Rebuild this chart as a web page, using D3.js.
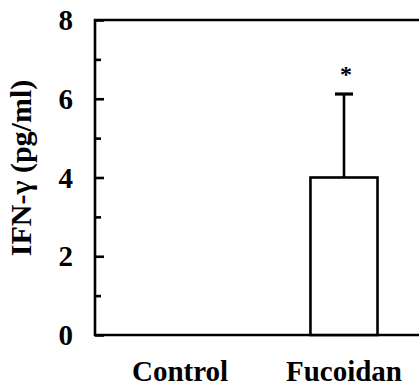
<!DOCTYPE html>
<html>
<head>
<meta charset="utf-8">
<script src="https://cdn.jsdelivr.net/npm/d3@7"></script>
<style>
  html, body { margin: 0; padding: 0; background: #fff; }
  svg { display: block; }
  text { font-family: "Liberation Serif", "Times New Roman", serif; font-weight: bold; fill: #000; }
</style>
</head>
<body>
<svg id="chart" width="419" height="391"></svg>
<script>
// IFN-γ concentration by treatment group
const groups = ["Control", "Fucoidan"];
const means = [0, 4.0];
const errors = [0, 2.12];
const significant = [false, true];
const majorTicks = [0, 2, 4, 6, 8];
const minorTicks = [1, 3, 5, 7];

const svg = d3.select("#chart");
const W = 419, H = 391;
const plotLeft = 95, plotTop = 20, plotBottom = 335;

const y = d3.scaleLinear().domain([0, 8]).range([plotBottom, plotTop]);
const x = d3.scaleBand().domain(groups).range([plotLeft, 429])
  .paddingInner(0.591).paddingOuter(0.314);

const lw = 2.6;

// frame: left axis, top line and baseline run to the right edge
svg.append("path")
  .attr("d", `M${W},${plotTop}H${plotLeft}V${plotBottom}H${W}`)
  .attr("fill", "none").attr("stroke", "#000").attr("stroke-width", lw);

// inward ticks
const yAxis = d3.axisRight(y).tickValues(majorTicks).tickSize(9).tickFormat("");
const gy = svg.append("g").attr("transform", `translate(${plotLeft},0)`).call(yAxis);
gy.select(".domain").remove();
gy.selectAll("line").attr("stroke-width", lw);

const yMinor = d3.axisRight(y).tickValues(minorTicks).tickSize(6).tickFormat("");
const gm = svg.append("g").attr("transform", `translate(${plotLeft},0)`).call(yMinor);
gm.select(".domain").remove();
gm.selectAll("line").attr("stroke-width", lw);

// tick labels
svg.append("g").selectAll("text").data(majorTicks).join("text")
  .attr("x", 73).attr("y", d => y(d))
  .attr("dy", "0.35em")
  .attr("text-anchor", "end")
  .attr("font-size", 29)
  .text(d => d);

// y axis title
svg.append("text")
  .attr("transform", `translate(31,168) rotate(-90)`)
  .attr("text-anchor", "middle")
  .attr("font-size", 30)
  .text("IFN-γ (pg/ml)");

// bars
const data = groups.map((g, i) => ({ g, m: means[i], e: errors[i], s: significant[i] }));
svg.append("g").selectAll("rect").data(data.filter(d => d.m > 0)).join("rect")
  .attr("x", d => x(d.g)).attr("width", x.bandwidth())
  .attr("y", d => y(d.m)).attr("height", d => y(0) - y(d.m))
  .attr("fill", "#fff").attr("stroke", "#000").attr("stroke-width", lw);

// error bars (upper only)
const eb = svg.append("g").selectAll("g").data(data.filter(d => d.e > 0)).join("g");
eb.append("line")
  .attr("x1", d => x(d.g) + x.bandwidth() / 2).attr("x2", d => x(d.g) + x.bandwidth() / 2)
  .attr("y1", d => y(d.m)).attr("y2", d => y(d.m + d.e))
  .attr("stroke", "#000").attr("stroke-width", lw);
eb.append("line")
  .attr("x1", d => x(d.g) + x.bandwidth() / 2 - 9).attr("x2", d => x(d.g) + x.bandwidth() / 2 + 9)
  .attr("y1", d => y(d.m + d.e)).attr("y2", d => y(d.m + d.e))
  .attr("stroke", "#000").attr("stroke-width", 3.2);

// significance marks
svg.append("g").selectAll("text").data(data.filter(d => d.s)).join("text")
  .attr("x", d => x(d.g) + x.bandwidth() / 2 + 2)
  .attr("y", d => y(d.m + d.e) - 12)
  .attr("text-anchor", "middle")
  .attr("font-size", 24)
  .text("*");

// category labels
svg.append("g").selectAll("text").data(groups).join("text")
  .attr("x", d => x(d) + x.bandwidth() / 2)
  .attr("y", 381)
  .attr("text-anchor", "middle")
  .attr("font-size", 29)
  .text(d => d);
</script>
</body>
</html>
